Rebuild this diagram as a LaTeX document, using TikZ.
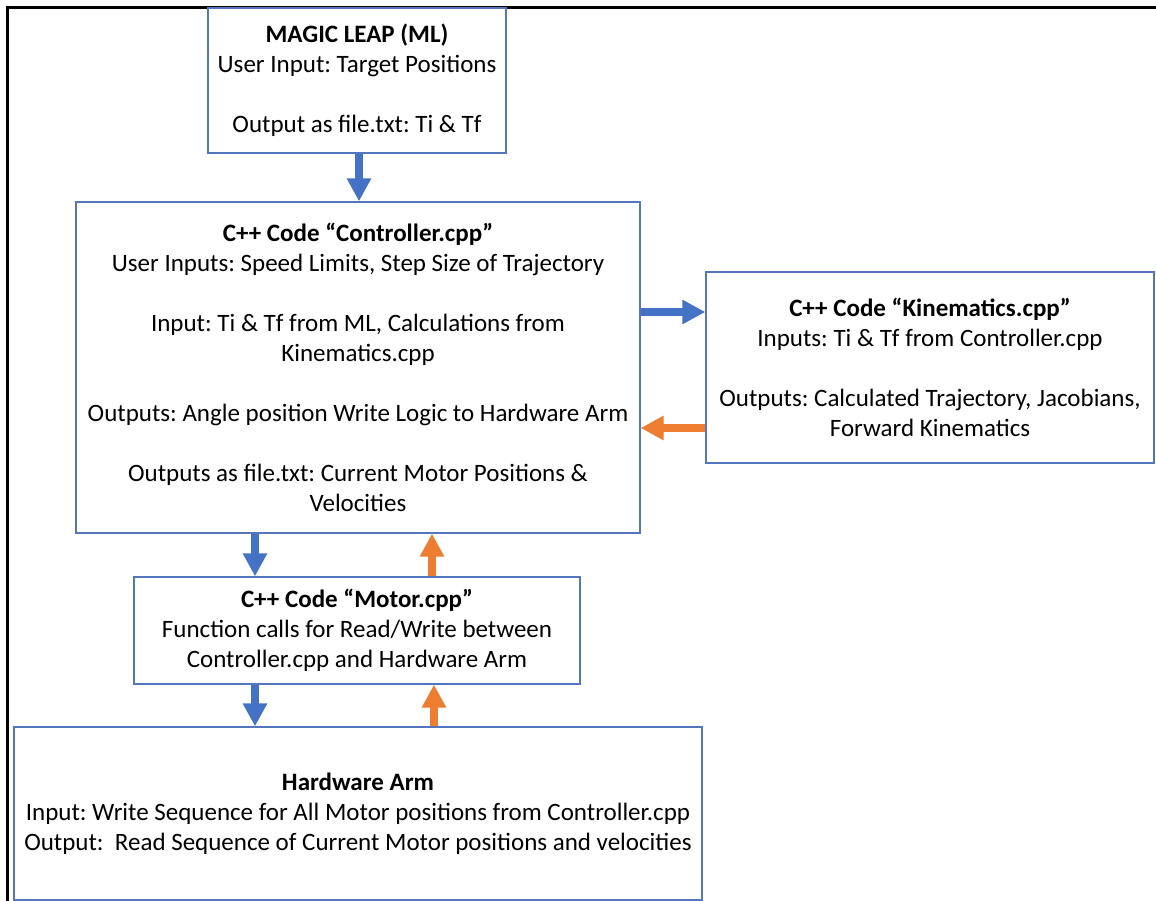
\documentclass[tikz,border=0pt]{standalone}
\usepackage{fontspec}
\setmainfont{Carlito}
\usetikzlibrary{arrows.meta}
\definecolor{boxblue}{RGB}{84,118,190}
\definecolor{arrblue}{RGB}{68,114,196}
\definecolor{arrorange}{RGB}{237,125,49}
\frenchspacing
\begin{document}
\begin{tikzpicture}[x=1pt,y=-1pt,
  box/.style={draw=boxblue, line width=1.3pt, rectangle, inner sep=0pt, align=center,
    font=\fontsize{25}{30}\selectfont},
  fwdarrow/.style={draw=arrblue, line width=8pt, -{Triangle[length=23pt,width=23pt]}},
  backarrow/.style={draw=arrorange, line width=8pt, -{Triangle[length=23pt,width=23pt]}}]
\fill[white] (0,0) rectangle (1156,901);
\useasboundingbox (0,0) rectangle (1156,901);
\draw[black, line width=3pt] (7.5,901) -- (7.5,7.5) -- (1156,7.5);

\node[box, minimum width=298pt, minimum height=145pt] (ml) at (357,80.5)
  {\textbf{MAGIC LEAP (ML)}\\ User Input: Target Positions\\[30pt] Output as file.txt: Ti \& Tf};

\node[box, minimum width=564pt, minimum height=331pt] (ctrl) at (358,367.5)
  {\textbf{C++ Code “Controller.cpp”}\\
   User Inputs: Speed Limits, Step Size of Trajectory\\[30pt]
   Input: Ti \& Tf from ML, Calculations from\\
   Kinematics.cpp\\[30pt]
   Outputs: Angle position Write Logic to Hardware Arm\\[30pt]
   Outputs as file.txt: Current Motor Positions \&\\
   Velocities};

\node[box, minimum width=448pt, minimum height=191pt] (kin) at (930,367.5)
  {\textbf{C++ Code “Kinematics.cpp”}\\
   Inputs: Ti \& Tf from Controller.cpp\\[30pt]
   Outputs: Calculated Trajectory, Jacobians,\\
   Forward Kinematics};

\node[box, minimum width=446pt, minimum height=107pt] (motor) at (357,630.5)
  {\textbf{C++ Code “Motor.cpp”}\\
   Function calls for Read/Write between\\
   Controller.cpp and Hardware Arm};

\node[box, minimum width=688pt, minimum height=173pt] (hw) at (358,813.5)
  {\textbf{Hardware Arm}\\
   Input: Write Sequence for All Motor positions from Controller.cpp\\
   Output:\ \ Read Sequence of Current Motor positions and velocities};

\draw[fwdarrow] ([xshift=2pt]ml.south) -- ([xshift=2pt]ml.south |- ctrl.north);
\draw[fwdarrow] ([yshift=55.5pt]ctrl.east) -- ([yshift=55.5pt]kin.west);
\draw[backarrow] ([yshift=-60.5pt]kin.west) -- ([yshift=-60.5pt]ctrl.east);
\draw[fwdarrow] ([xshift=-103pt]ctrl.south) -- ([xshift=-103pt]ctrl.south |- motor.north);
\draw[backarrow] ([xshift=75pt]motor.north) -- ([xshift=75pt]motor.north |- ctrl.south);
\draw[fwdarrow] ([xshift=-102pt]motor.south) -- ([xshift=-102pt]motor.south |- hw.north);
\draw[backarrow] ([xshift=76pt]hw.north) -- ([xshift=76pt]hw.north |- motor.south);
\end{tikzpicture}
\end{document}
